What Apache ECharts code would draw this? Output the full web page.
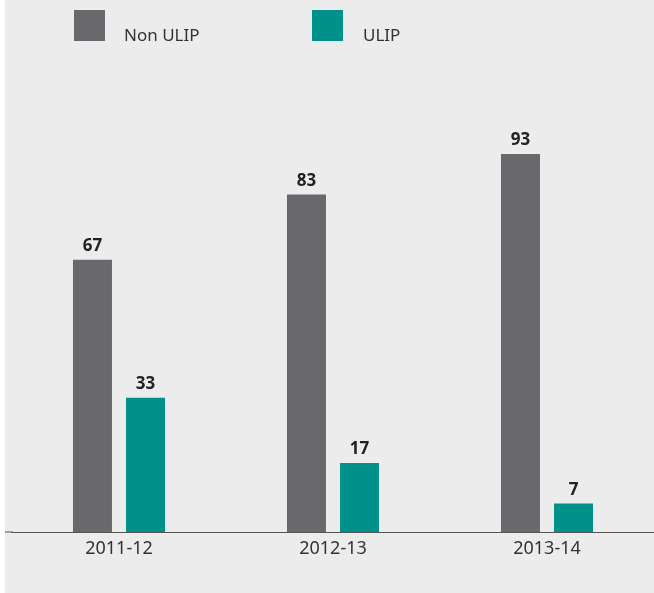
<!DOCTYPE html>
<html><head><meta charset="utf-8">
<script src="https://cdn.jsdelivr.net/npm/echarts@6/dist/echarts.min.js"></script>
<style>html,body{margin:0;padding:0;background:#fff}#c{position:absolute;left:5px;top:0;width:649px;height:593px;background:#ebeceb}</style>
</head><body><div id="c"></div>
<script>
const categories = ['2011-12', '2012-13', '2013-14'];
const nonUlip = [67, 83, 93];
const ulip = [33, 17, 7];
const seriesNames = ['Non ULIP', 'ULIP'];
const chart = echarts.init(document.getElementById('c'));
const labelStyle = {show: true, position: 'top', distance: 5, fontFamily: 'Noto Sans', fontWeight: 'bold', fontSize: 17, color: '#222'};
const legendTextStyle = {fontFamily: 'Noto Sans', fontSize: 17, fill: '#333', verticalAlign: 'middle', align: 'left'};
chart.setOption({
  backgroundColor: '#ebeceb',
  animation: false,
  legend: [
    {data: [seriesNames[0]], left: 64, top: 5, icon: 'rect', itemWidth: 31, itemHeight: 31, formatter: () => ''},
    {data: [seriesNames[1]], left: 302, top: 5, icon: 'rect', itemWidth: 31, itemHeight: 31, formatter: () => ''}
  ],
  grid: {left: 7, right: -1.5, top: 125.5, bottom: 61},
  xAxis: {type: 'category', data: categories,
    axisLine: {show: true, lineStyle: {color: '#555', width: 1}},
    axisTick: {show: false},
    axisLabel: {fontFamily: 'Noto Sans', fontSize: 18, color: '#333', margin: 8}},
  yAxis: {type: 'value', min: 0, max: 100, show: false, splitLine: {show: false}},
  graphic: [
    {type: 'line', shape: {x1: 0, y1: 532, x2: 8, y2: 532}, style: {stroke: '#555', lineWidth: 1}},
    {type: 'text', left: 119, top: 28, style: Object.assign({text: seriesNames[0]}, legendTextStyle)},
    {type: 'text', left: 358, top: 28, style: Object.assign({text: seriesNames[1]}, legendTextStyle)}
  ],
  series: [
    {name: seriesNames[0], type: 'bar', data: nonUlip, barWidth: 39, barGap: '36%', itemStyle: {color: '#69696d'}, label: labelStyle},
    {name: seriesNames[1], type: 'bar', data: ulip, barWidth: 39, itemStyle: {color: '#00918a'}, label: labelStyle}
  ]
});
</script></body></html>
